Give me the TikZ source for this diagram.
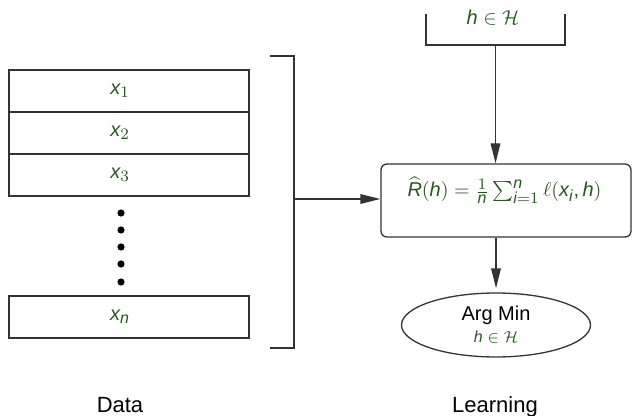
\documentclass[tikz,border=0pt]{standalone}
\usepackage{amsmath}
\usepackage{fontspec}
\setmainfont{Liberation Sans}
\usepackage[italic]{mathastext}
\usetikzlibrary{arrows.meta,shapes.geometric}
\definecolor{mathgreen}{RGB}{38,88,28}
\tikzset{
  line/.style={draw=black!80, line width=0.65pt},
  arr/.style={line, -{Triangle[length=10pt,width=4.8pt]}},
  databox/.style={line, rectangle, minimum width=120pt, minimum height=21pt,
    inner sep=0pt, text=mathgreen, execute at end node={\hspace{9pt}}},
  riskbox/.style={line, rectangle, rounded corners=3pt, minimum width=125pt,
    minimum height=36.5pt, text=mathgreen, text height=8pt, text depth=11.5pt,
    execute at end node={\hspace{1.5pt}}},
  minbox/.style={line, ellipse, minimum width=94.5pt, minimum height=32pt,
    inner sep=0pt, align=center},
  dot/.style={circle, fill=black, inner sep=0pt, minimum size=3.6pt},
  caption/.style={anchor=base, font=\fontsize{11}{13}\selectfont},
}

\begin{document}
\begin{tikzpicture}[x=0.5pt, y=-0.5pt]
    \useasboundingbox (0,0) rectangle (632,416);
    % data
    \node[databox] (x1) at (129,91) {$x_1$};
    \node[databox] (x2) at (129,133) {$x_2$};
    \node[databox] (x3) at (129,175) {$x_3$};
    \node[databox] (xn) at (129,317) {$x_n$};
    % dots
    \foreach \y [count=\i] in {213,230,247,264,282}
        \node[dot] (d\i) at (121,\y) {};
    % bracket round the data
    \draw[line] (270,56) -- (294,56) -- (294,348) -- (270,348);
    \coordinate (brk) at (294,199);

    % hypothesis class
    \draw[line] (426,14) -- (426,45) -- (565,45) -- (565,14);
    \node[anchor=base, text=mathgreen] (hyp) at (493,25) {$h \in \mathcal{H}$};
    \coordinate (hypbot) at (495.5,45);

    % empirical risk
    \node[riskbox] (risk) at (506,200.5)
        {$\widehat{R}(h) = \frac{1}{n}\sum_{i=1}^{n} \ell(x_i, h)$};
    % arg min
    \node[minbox] (argmin) at (496,325)
        {Arg Min\\[-1pt] {\footnotesize\color{mathgreen}$h \in \mathcal{H}$}};

    % arrows
    \draw[arr] (brk) -- (brk -| risk.west);
    \draw[arr] (hypbot) -- (hypbot |- risk.north);
    \draw[arr, shorten >=2pt] (argmin.north |- risk.south) -- (argmin.north);

    % captions
    \node[caption] (data) at (120,413) {Data};
    \node[caption] (learn) at (495,413) {Learning};
\end{tikzpicture}
\end{document}
